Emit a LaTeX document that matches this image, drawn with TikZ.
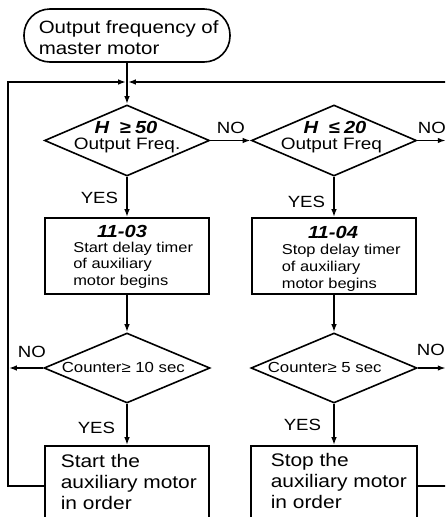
\documentclass[tikz,border=0pt]{standalone}
\usepackage{fontspec}
\setmainfont{Liberation Sans}[FakeStretch=1.15]
\usetikzlibrary{shapes.geometric,arrows.meta}
\begin{document}
\begin{tikzpicture}[x=1pt,y=-1pt,
  line width=1.6pt,
  arr/.style={-{Latex[length=8pt,width=5.5pt]}},
  box/.style={draw, rectangle, minimum width=164pt, minimum height=76pt, inner sep=0pt},
  dia/.style={draw, diamond, minimum width=165pt, minimum height=71pt, inner sep=0pt},
  term/.style={draw, rectangle, rounded corners=26pt, minimum width=206pt, minimum height=53pt, inner sep=0pt},
  tx/.style={inner sep=0pt, anchor=base west},
  tc/.style={inner sep=0pt, anchor=base},
  fTerm/.style={font=\fontsize{17.8pt}{18pt}\selectfont},
  fDia/.style={font=\fontsize{16.5pt}{17pt}\selectfont},
  fHead/.style={font=\fontsize{17.5pt}{18pt}\selectfont\bfseries\itshape},
  fLab/.style={font=\fontsize{16.2pt}{17pt}\selectfont},
  fBox/.style={font=\fontsize{14.3pt}{15pt}\selectfont},
  fBig/.style={font=\fontsize{18.2pt}{19pt}\selectfont},
  fCnt/.style={font=\fontsize{14.6pt}{15pt}\selectfont},
]
\useasboundingbox (0,0) rectangle (445,517);
\clip (0,0) rectangle (445,517);

% shapes
\node[term] (start) at (127,35.5) {};
\node[dia] (d1) at (127,140.5) {};
\node[dia] (d2) at (334,140.5) {};
\node[box] (b1) at (127,256) {};
\node[box] (b2) at (334,256) {};
\node[dia, minimum width=166pt, minimum height=70pt] (d3) at (127,368) {};
\node[dia, minimum width=166pt, minimum height=70pt] (d4) at (334,368) {};
\node[box, minimum height=80pt] (b3) at (127,486) {};
\node[box, minimum width=166pt, minimum height=80pt] (b4) at (334,486) {};

% helper coordinates
\coordinate (j) at (127,82);
\coordinate (jl) at (126.2,82);
\coordinate (jr) at (127.8,82);
\coordinate (ll) at (8,82);
\coordinate (rr) at (446.5,82);
\coordinate (n3) at (8.8,368);
\coordinate (n2) at (445.8,140.5);
\coordinate (n4) at (445.8,368);

% texts
\node[tx,fTerm] (s1) at (38,33.3) {Output frequency of};
\node[tx,fTerm] (s2) at (38,54) {master motor};

\node[tc,fHead] (h1) at (126,133) {H\hspace{0.6em}≥\hspace{0.25em}50};
\node[tx,fDia] (o1) at (73,149) {Output Freq.};
\node[tc,fHead] (h2) at (335,133) {H\hspace{0.6em}≤\hspace{0.25em}20};
\node[tx,fDia] (o2) at (280,149) {Output Freq};

\node[tx,fLab] (no1) at (216,133) {NO};
\node[tx,fLab] (no2) at (417,133) {NO};
\node[tx,fLab] (y1) at (80,203) {YES};
\node[tx,fLab] (y2) at (287,207) {YES};

\node[tc,fHead] (k1) at (122,237) {11-03};
\node[tx,fBox] (k1a) at (72.5,252) {Start delay timer};
\node[tx,fBox] (k1b) at (72.5,268.5) {of auxiliary};
\node[tx,fBox] (k1c) at (72.5,285) {motor begins};

\node[tc,fHead] (k2) at (333,238) {11-04};
\node[tx,fBox] (k2a) at (281,254) {Stop delay timer};
\node[tx,fBox] (k2b) at (281,271) {of auxiliary};
\node[tx,fBox] (k2c) at (281,288) {motor begins};

\node[tx,fCnt] (c1) at (61,372) {Counter≥ 10 sec};
\node[tx,fCnt] (c2) at (267,372) {Counter≥ 5 sec};
\node[tx,fLab] (no3) at (17,357) {NO};
\node[tx,fLab] (no4) at (416,355) {NO};
\node[tx,fLab] (y3) at (77,433) {YES};
\node[tx,fLab] (y4) at (283,430) {YES};

\node[tx,fBig] (m1) at (60,467) {Start the};
\node[tx,fBig] (m2) at (60,488) {auxiliary motor};
\node[tx,fBig] (m3) at (60,509) {in order};
\node[tx,fBig] (p1) at (270,466) {Stop the};
\node[tx,fBig] (p2) at (270,487) {auxiliary motor};
\node[tx,fBig] (p3) at (270,508) {in order};

% connectors
\draw[arr] (start.south) -- (d1.north);
\draw[arr] (b3.west) -| (ll) -- (jl);
\draw[arr] (b4.east) -| (rr) -- (jr);
\draw[arr] (d1.east) -- (d2.west);
\draw[arr] (d2.east) -- (n2);
\draw[arr] (d1.south) -- (b1.north);
\draw[arr] (d2.south) -- (b2.north);
\draw[arr] (b1.south) -- (d3.north);
\draw[arr] (b2.south) -- (d4.north);
\draw[arr] (d3.west) -- (n3);
\draw[arr] (d4.east) -- (n4);
\draw[arr] (d3.south) -- (b3.north);
\draw[arr] (d4.south) -- (b4.north);
\end{tikzpicture}
\end{document}
